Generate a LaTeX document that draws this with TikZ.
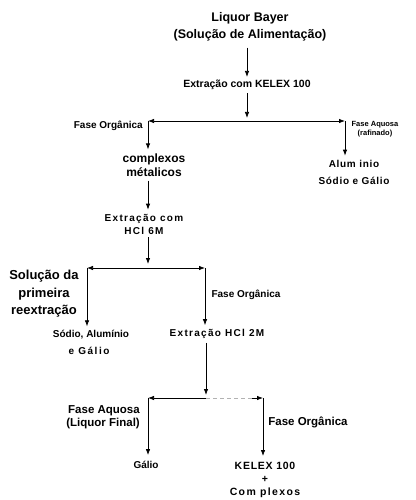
\documentclass[tikz,border=0pt]{standalone}
\usepackage{fontspec}
\setmainfont{Liberation Sans}
\usetikzlibrary{arrows.meta}
\newfontfamily\spA[LetterSpace=7]{Liberation Sans}
\newfontfamily\spB[LetterSpace=13]{Liberation Sans}
\newfontfamily\spC[LetterSpace=15]{Liberation Sans}
\newcommand{\fs}[2]{\fontsize{#1}{#2}\selectfont}
\tikzset{
  txt/.style={inner sep=0pt, align=center, font=\bfseries},
  flow/.style={line width=0.75pt, -{Latex[length=6pt,width=4.5pt]}},
  faint/.style={line width=0.6pt, gray!60, dash pattern=on 4pt off 3pt},
}
\begin{document}
\begin{tikzpicture}[x=1pt,y=-1pt]
\useasboundingbox (0,0) rectangle (415,500);
% top
\node[txt, font=\bfseries\fs{12.5}{17}] (feed) at (250,27) {Liquor Bayer\\(Solução de Alimentação)};
\node[txt, font=\bfseries\fs{10.5}{12}] (kelex) at (247,85) {Extração com KELEX 100};
\coordinate (j1) at (247,121);
\coordinate (l1) at (148,121);
\coordinate (r1) at (345,121);
\draw[flow, shorten <=6pt, shorten >=3pt] (feed.south -| kelex.north) -- (kelex.north);
\draw[flow, shorten <=3pt, shorten >=3pt] (kelex.south) -- (j1);
\draw[flow] (j1) -- (l1);
\draw[flow] (j1) -- (r1);
\node[txt, font=\bfseries\fs{10}{12}, anchor=east] (fo1) at (143,126) {Fase Orgânica};
\node[txt, font=\bfseries\fs{7.5}{8.5}] (fa1) at (375,129) {Fase Aquosa\\(rafinado)};
\node[txt, font=\bfseries\fs{12}{14}] (compl) at (154,165) {complexos\\métalicos};
\node[txt, font=\spA\bfseries\fs{10}{17}] (alum) at (354,172) {Alum inio\\Sódio e Gálio};
\draw[flow, shorten >=4pt] (l1) -- (l1 |- compl.north);
\draw[flow, shorten >=4pt] (r1) -- (r1 |- alum.north);
% HCl 6M
\node[txt, font=\spB\bfseries\fs{10}{13}] (hcl6) at (144,224) {Extração com\\HCl 6M};
\draw[flow, shorten <=4pt, shorten >=4pt] (compl.south -| l1) -- (hcl6.north -| l1);
\coordinate (j2) at (148,268);
\coordinate (l2) at (87,268);
\coordinate (r2) at (205,268);
\draw[flow, shorten <=3pt, shorten >=4pt] (hcl6.south -| j2) -- (j2);
\draw[flow] (j2) -- (l2);
\draw[flow] (j2) -- (r2);
\node[txt, font=\bfseries\fs{13}{17.5}] (sol) at (44,294) {Solução da\\primeira\\reextração};
\node[txt, font=\bfseries\fs{10}{12}] (fo2) at (246,295) {Fase Orgânica};
\node[txt, font=\bfseries\fs{10}{12}] (sod) at (91,335) {Sódio, Alumínio};
\node[txt, font=\spC\bfseries\fs{10}{12}] (egal) at (89,351) {e Gálio};
\node[txt, font=\spB\bfseries\fs{10}{12}] (hcl2) at (217,334) {Extração HCl 2M};
\draw[flow, shorten >=4pt] (l2) -- (l2 |- sod.north);
\draw[flow, shorten >=4pt] (r2) -- (r2 |- hcl2.north);
% HCl 2M split
\coordinate (j3) at (206,398);
\coordinate (l3) at (148,398);
\coordinate (r3) at (263,398);
\coordinate (r3s) at (252,398);
\draw[flow, shorten <=4pt, shorten >=3pt] (hcl2.south -| j3) -- (j3);
\draw[flow] (j3) -- (l3);
\draw[faint] (j3) -- (r3s);
\draw[flow] (r3s) -- (r3);
\node[txt, font=\bfseries\fs{11.5}{13}, align=right, anchor=east] (fa2) at (140,417) {Fase Aquosa\\(Liquor Final)};
\node[txt, font=\bfseries\fs{11.5}{13}] (fo3) at (308,422) {Fase Orgânica};
\node[txt, font=\bfseries\fs{10}{12}] (gal) at (146,465) {Gálio};
\node[txt, font=\spA\bfseries\fs{10.5}{13}] (kel) at (265,480) {KELEX 100\\+\\{\spB Com plexos}};
\draw[flow, shorten >=6pt] (l3) -- (l3 |- gal.north);
\draw[flow, shorten >=6pt] (r3) -- (r3 |- kel.north);
\end{tikzpicture}
\end{document}
